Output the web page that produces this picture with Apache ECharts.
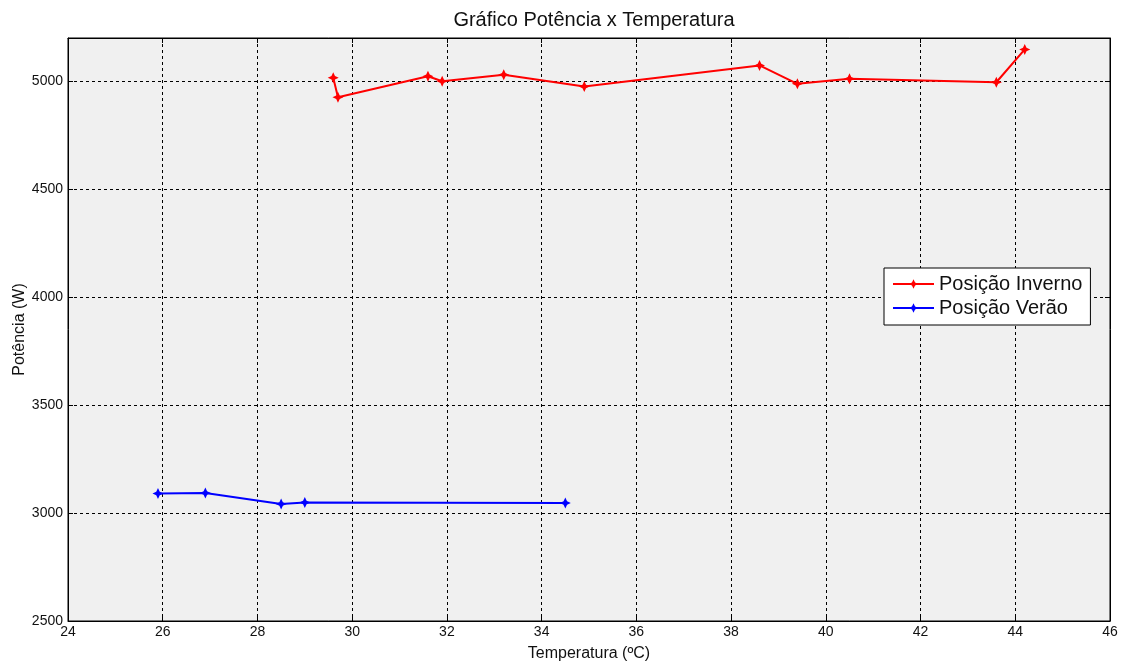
<!DOCTYPE html>
<html>
<head>
<meta charset="utf-8">
<script src="https://cdn.jsdelivr.net/npm/echarts@6/dist/echarts.min.js"></script>
<style>
html,body{margin:0;padding:0;background:#fff;}
#chart{width:1125px;height:662px;}
</style>
</head>
<body>
<div id="chart"></div>
<script>
// ---- data ----
const titleText = 'Gráfico Potência x Temperatura';
const xName = 'Temperatura (ºC)';
const yName = 'Potência (W)';
const invernoName = 'Posição Inverno';
const veraoName = 'Posição Verão';
const invernoTemp = [29.6, 29.7, 31.6, 31.9, 33.2, 34.9, 38.6, 39.4, 40.5, 43.6, 44.2];
const invernoPot  = [5016, 4926, 5023, 5000, 5030, 4975, 5073, 4988, 5011, 4995, 5147];
const veraoTemp = [25.9, 26.9, 28.5, 29.0, 34.5];
const veraoPot  = [3091, 3093, 3042, 3049, 3046];
const xMin = 24, xMax = 46, xStep = 2;
const yMin = 2500, yMax = 5200, yStep = 500;

// ---- chart ----
const FONT = '"Liberation Sans", Arial, sans-serif';
const TXT = '#111';
const star = 'path://M0,-10 L3.2,-3.2 L10,0 L3.2,3.2 L0,10 L-3.2,3.2 L-10,0 L-3.2,-3.2 Z';
const zip = (a, b) => a.map((v, i) => [v, b[i]]);

const chart = echarts.init(document.getElementById('chart'), null, {renderer: 'canvas'});
const gridLine = {show: true, lineStyle: {color: '#000', type: [3, 3], width: 1}};
const tickIn = {show: true, inside: true, length: 5, lineStyle: {color: '#000'}};
chart.setOption({
  animation: false,
  backgroundColor: '#fff',
  title: {
    text: titleText, left: 589, top: 5, textAlign: 'center',
    textStyle: {fontFamily: FONT, fontSize: 20, fontWeight: 'normal', color: TXT}
  },
  grid: {left: 68, right: 15, top: 38, bottom: 41, show: true,
         containLabel: false, outerBoundsMode: 'none',
         backgroundColor: '#f0f0f0', borderColor: '#000', borderWidth: 1},
  legend: {
    orient: 'vertical', left: 884, top: 268,
    backgroundColor: '#fff', borderColor: '#000', borderWidth: 1, borderRadius: 0,
    padding: [5, 8, 6, 8], itemGap: 2, itemWidth: 41, itemHeight: 12,
    textStyle: {fontFamily: FONT, fontSize: 20, color: TXT, lineHeight: 22},
    data: [invernoName, veraoName]
  },
  xAxis: [{
    type: 'value', min: xMin, max: xMax, interval: xStep,
    name: xName, nameLocation: 'middle', nameGap: 25, nameMoveOverlap: false,
    nameTextStyle: {fontFamily: FONT, fontSize: 16, color: TXT},
    axisLine: {show: true, onZero: false, lineStyle: {color: '#000'}},
    axisTick: tickIn,
    axisLabel: {fontFamily: FONT, fontSize: 14, color: TXT, margin: 4},
    splitLine: gridLine
  }, {
    type: 'value', position: 'top', min: xMin, max: xMax, interval: xStep,
    axisLine: {show: true, onZero: false, lineStyle: {color: '#000'}},
    axisTick: tickIn, axisLabel: {show: false}, splitLine: {show: false}
  }],
  yAxis: [{
    type: 'value', min: yMin, max: yMax, interval: yStep,
    name: yName, nameLocation: 'middle', nameGap: 40, nameRotate: 90, nameMoveOverlap: false,
    nameTextStyle: {fontFamily: FONT, fontSize: 16, color: TXT},
    axisLine: {show: true, onZero: false, lineStyle: {color: '#000'}},
    axisTick: tickIn,
    axisLabel: {fontFamily: FONT, fontSize: 14, color: TXT, margin: 5,
      formatter: v => (v % yStep === 0 ? String(v) : '')},
    splitLine: gridLine
  }, {
    type: 'value', position: 'right', min: yMin, max: yMax, interval: yStep,
    axisLine: {show: true, onZero: false, lineStyle: {color: '#000'}},
    axisTick: tickIn, axisLabel: {show: false}, splitLine: {show: false}
  }],
  series: [{
    name: invernoName, type: 'line', data: zip(invernoTemp, invernoPot),
    xAxisIndex: 0, yAxisIndex: 0,
    symbol: star, symbolSize: 11, showAllSymbol: true,
    lineStyle: {color: '#ff0000', width: 2},
    itemStyle: {color: '#ff0000'}
  }, {
    name: veraoName, type: 'line', data: zip(veraoTemp, veraoPot),
    xAxisIndex: 0, yAxisIndex: 0,
    symbol: star, symbolSize: 11, showAllSymbol: true,
    lineStyle: {color: '#0000ff', width: 2},
    itemStyle: {color: '#0000ff'}
  }]
});
</script>
</body>
</html>
